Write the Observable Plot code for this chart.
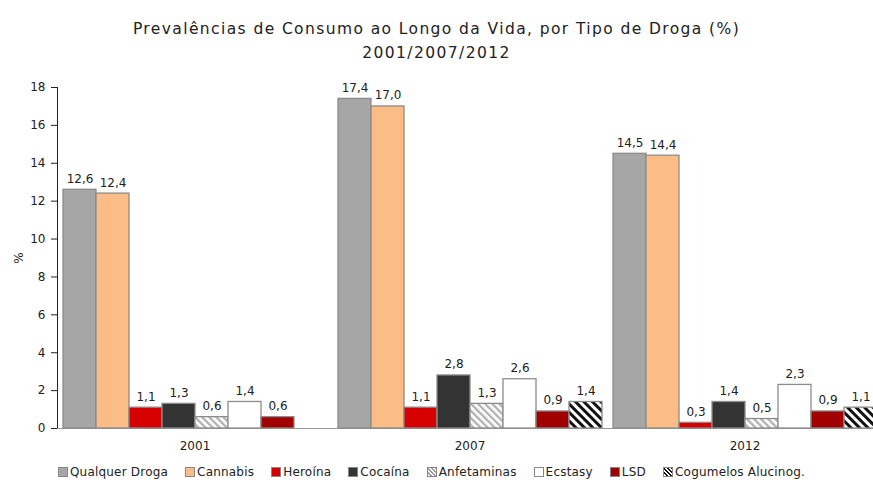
<!DOCTYPE html>
<html><head><meta charset="utf-8">
<script src="https://cdn.jsdelivr.net/npm/d3@7"></script>
<script src="https://cdn.jsdelivr.net/npm/@observablehq/plot@0.6"></script>
<style>
body{margin:0;background:#fff;overflow:hidden;font-family:"DejaVu Sans",sans-serif;color:#222}
#title{position:relative;height:62px;width:873px}
#title div{position:absolute;left:0;width:873px;text-align:center;font-size:15.5px;letter-spacing:1.4px;color:#222}
#legend{display:flex;justify-content:center;gap:17px;font-size:12px;letter-spacing:0.2px;height:26px;align-items:center;width:873px;padding-right:10px;box-sizing:border-box}
.sw{display:inline-block;width:8px;height:8px;border:1px solid #888;margin-right:2px;vertical-align:-1px}
</style></head><body>
<div id="title"><div style="top:20px">Prevalências de Consumo ao Longo da Vida, por Tipo de Droga (%)</div><div style="top:44px">2001/2007/2012</div></div>
<div id="chart"></div>
<div id="legend"></div>
<script>
const years = ["2001", "2007", "2012"];
const drugs = ["Qualquer Droga", "Cannabis", "Heroína", "Cocaína", "Anfetaminas", "Ecstasy", "LSD", "Cogumelos Alucinog."];
const qualquerDroga = [12.6, 17.4, 14.5];
const cannabis = [12.4, 17.0, 14.4];
const heroina = [1.1, 1.1, 0.3];
const cocaina = [1.3, 2.8, 1.4];
const anfetaminas = [0.6, 1.3, 0.5];
const ecstasy = [1.4, 2.6, 2.3];
const lsd = [0.6, 0.9, 0.9];
const cogumelos = [null, 1.4, 1.1];
const yTicks = [0, 2, 4, 6, 8, 10, 12, 14, 16, 18];

const series = [qualquerDroga, cannabis, heroina, cocaina, anfetaminas, ecstasy, lsd, cogumelos];
const rows = [];
years.forEach((year, i) => {
  drugs.forEach((drug, j) => {
    const v = series[j][i];
    if (v != null) rows.push({year, drug, value: v});
  });
});

const drugFills = ["#a6a6a6", "#fbbd85", "#d60000", "#333333", "url(#hAnf)", "#ffffff", "#a00000", "url(#hCog)"];
const legendCss = ["#a6a6a6", "#fbbd85", "#d60000", "#333333",
  "repeating-linear-gradient(45deg,#fff 0 1.5px,#999 1.5px 3px)", "#ffffff", "#a00000",
  "repeating-linear-gradient(45deg,#fff 0 1.5px,#111 1.5px 3px)"];

const fmt = v => d3.format(".1f")(v).replace(".", ",");

const plot = Plot.plot({
  width: 873,
  height: 397,
  marginTop: 25,
  marginBottom: 31,
  marginLeft: 56,
  marginRight: -9,
  style: {fontFamily: "DejaVu Sans, sans-serif", fontSize: "12px", color: "#222", overflow: "hidden", background: "#fff"},
  fx: {domain: years, padding: 0, label: null, tickSize: 0, tickPadding: 13},
  x: {domain: drugs, paddingInner: 0, paddingOuter: 0.06, axis: null},
  y: {domain: [0, 18], ticks: yTicks, tickSize: 6, tickPadding: 6, line: true, label: "%", labelAnchor: "center", labelArrow: "none", labelOffset: 43},
  color: {type: "ordinal", domain: drugs, range: drugFills},
  marks: [
    Plot.ruleY([0], {stroke: "#999", strokeWidth: 1.2}),
    Plot.barY(rows, {fx: "year", x: "drug", y: "value", fill: "drug", stroke: "#8c8c8c", strokeWidth: 1.3}),
    Plot.text(rows, {fx: "year", x: "drug", y: "value", text: d => fmt(d.value), dy: -7, lineAnchor: "bottom", fontSize: 12, fill: "#222"})
  ]
});

const svg = d3.select(plot);
const defs = svg.insert("defs", ":first-child");
const pA = defs.append("pattern").attr("id", "hAnf").attr("patternUnits", "userSpaceOnUse")
  .attr("width", 5).attr("height", 5).attr("patternTransform", "rotate(-45)");
pA.append("rect").attr("width", 5).attr("height", 5).attr("fill", "#fff");
pA.append("rect").attr("width", 2.3).attr("height", 5).attr("fill", "#b0b0b0");
const pC = defs.append("pattern").attr("id", "hCog").attr("patternUnits", "userSpaceOnUse")
  .attr("width", 6).attr("height", 6).attr("patternTransform", "rotate(-45)");
pC.append("rect").attr("width", 6).attr("height", 6).attr("fill", "#fff");
pC.append("rect").attr("width", 3).attr("height", 6).attr("fill", "#111");

// axis styling
svg.selectAll("[aria-label='y-axis tick'], [aria-label='y-axis line']").attr("stroke", "#999");

document.getElementById("chart").appendChild(plot);

const leg = d3.select("#legend");
drugs.forEach((d, i) => {
  const item = leg.append("span");
  item.append("span").attr("class", "sw").style("background", legendCss[i]);
  item.append("span").text(d);
});
</script>
</body></html>
